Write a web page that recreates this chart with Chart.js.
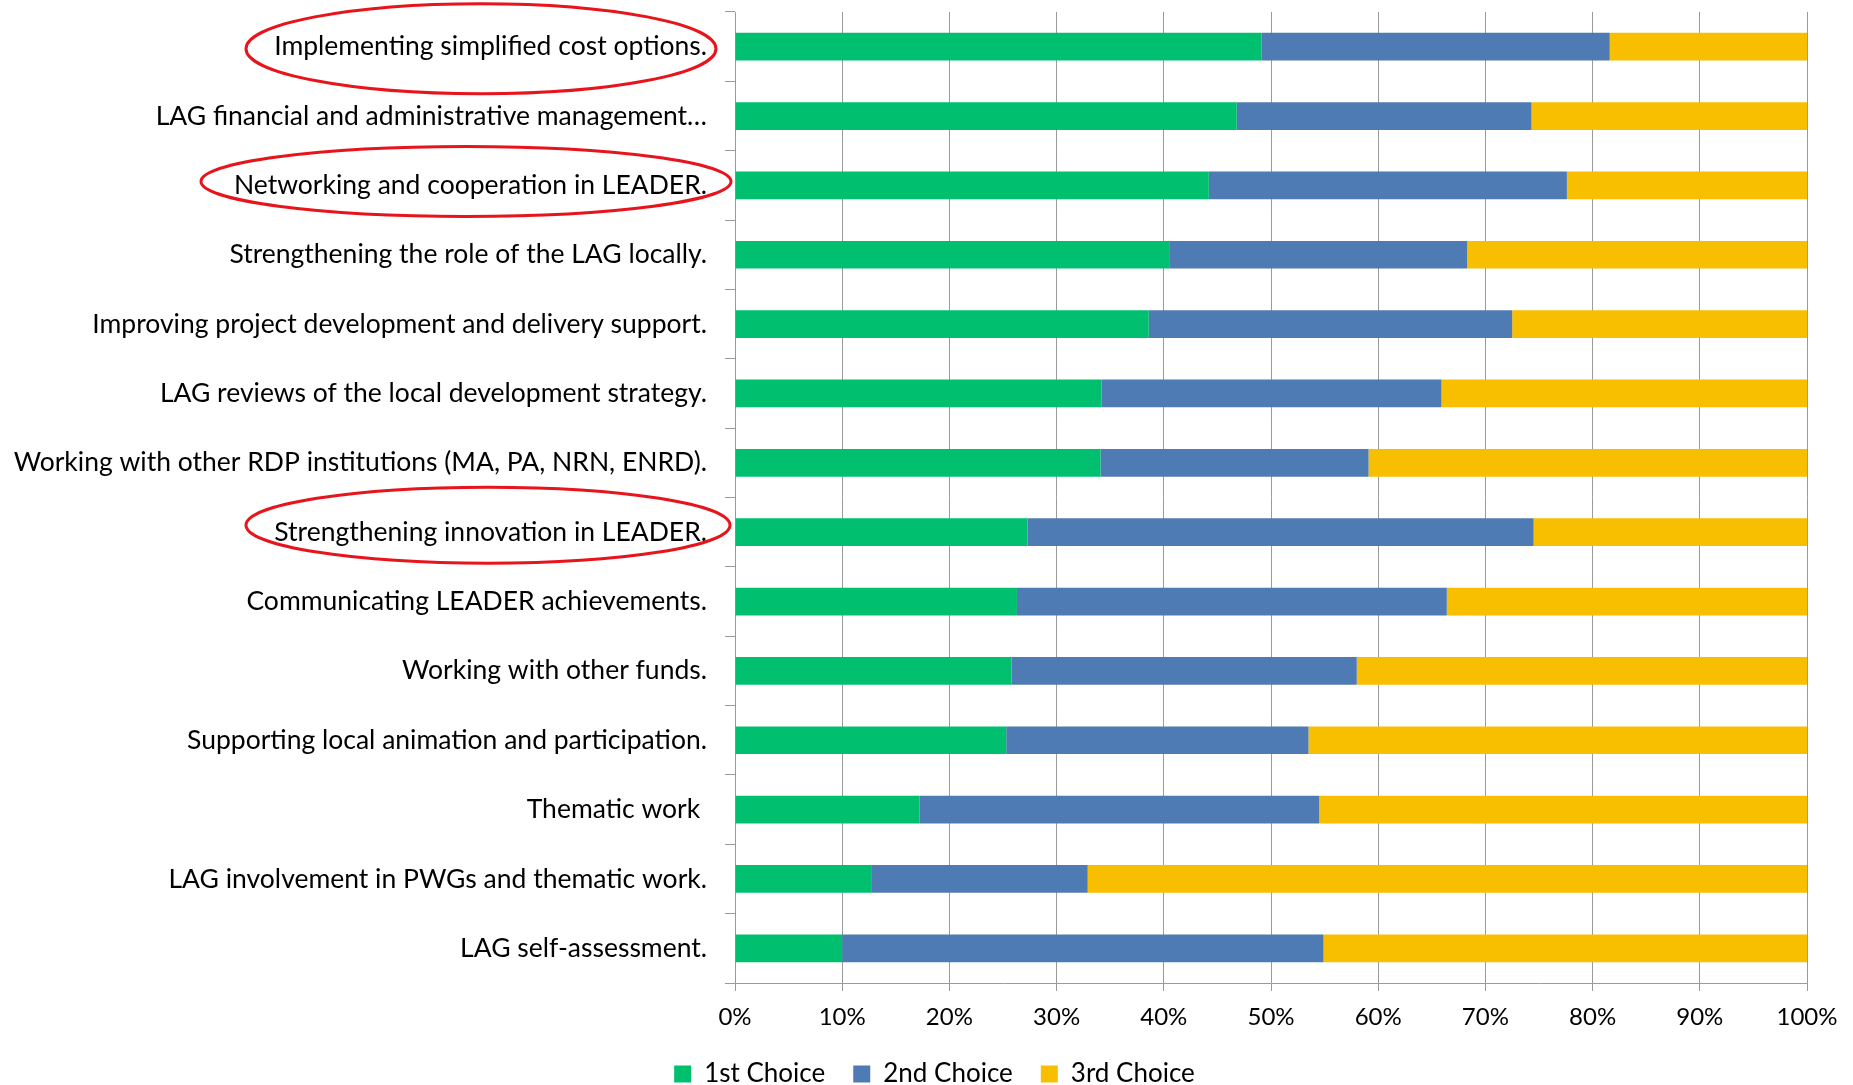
<!DOCTYPE html>
<html>
<head>
<meta charset="utf-8">
<script src="https://cdn.jsdelivr.net/npm/chart.js@4.4.1/dist/chart.umd.min.js"></script>
<style>
  html, body { margin: 0; padding: 0; background: #ffffff; overflow: hidden; }
  #wrap { width: 1853px; height: 1085px; position: relative; }
</style>
</head>
<body>
<div id="wrap"><canvas id="c"></canvas></div>
<script>
const categories = [
  "Implementing simplified cost options.",
  "LAG financial and administrative management\u2026",
  "Networking and cooperation in LEADER.",
  "Strengthening the role of the LAG locally.",
  "Improving project development and delivery support.",
  "LAG reviews of the local development strategy.",
  "Working with other RDP institutions (MA, PA, NRN, ENRD).",
  "Strengthening innovation in LEADER.",
  "Communicating LEADER achievements.",
  "Working with other funds.",
  "Supporting local animation and participation.",
  "Thematic work ",
  "LAG involvement in PWGs and thematic work.",
  "LAG self-assessment."
];
const firstChoice  = [49.1, 46.8, 44.2, 40.5, 38.6, 34.2, 34.1, 27.3, 26.3, 25.8, 25.3, 17.2, 12.7, 10.0];
const secondChoice = [32.5, 27.5, 33.4, 27.8, 33.9, 31.7, 25.0, 47.2, 40.1, 32.2, 28.2, 37.3, 20.2, 44.9];
const thirdChoice  = [18.4, 25.7, 22.4, 31.7, 27.5, 34.1, 40.9, 25.5, 33.6, 42.0, 46.5, 45.5, 67.1, 45.1];
const seriesNames  = ["1st Choice", "2nd Choice", "3rd Choice"];
const xTicks = [0, 10, 20, 30, 40, 50, 60, 70, 80, 90, 100];
const highlighted = [0, 2, 7];

const FONT = "Lato";
const colors = ["#00BF6F", "#4F7BB4", "#F8BE00"];

// red ellipses around highlighted category labels (annotation)
const ellipseStyle = [
  { cx: 481, rx: 235, ry: 45, dy: 2 },
  { cx: 466, rx: 265, ry: 35, dy: -4 },
  { cx: 488, rx: 242, ry: 38, dy: -7 }
];
const ellipsePlugin = {
  id: 'ellipses',
  afterDraw(chart) {
    const ctx = chart.ctx;
    const y = chart.scales.y;
    ctx.save();
    ctx.strokeStyle = "#E8141C";
    ctx.lineWidth = 3;
    highlighted.forEach((idx, i) => {
      const e = ellipseStyle[i];
      const cy = y.getPixelForValue(idx) + e.dy;
      ctx.beginPath();
      ctx.ellipse(e.cx, cy, e.rx, e.ry, 0, 0, Math.PI * 2);
      ctx.stroke();
    });
    ctx.restore();
  }
};
// nudge the legend block to the right, as in the original
const legendShift = {
  id: 'legendShift',
  afterLayout(chart) {
    const lg = chart.legend;
    if (lg) { lg.left += 26; lg.right += 26; }
  }
};

new Chart(document.getElementById('c'), {
  type: 'bar',
  data: {
    labels: categories,
    datasets: [firstChoice, secondChoice, thirdChoice].map((d, i) => ({
      label: seriesNames[i],
      data: d,
      backgroundColor: colors[i],
      borderWidth: 0,
      categoryPercentage: 0.4,
      barPercentage: 1.0
    }))
  },
  options: {
    indexAxis: 'y',
    responsive: true,
    maintainAspectRatio: false,
    animation: false,
    layout: { padding: { left: 10, right: 46, top: 12, bottom: -12 } },
    plugins: {
      tooltip: { enabled: false },
      legend: {
        position: 'bottom',
        labels: {
          font: { family: FONT, size: 26 },
          color: '#000',
          boxWidth: 17,
          boxHeight: 17,
          padding: 28
        }
      }
    },
    scales: {
      x: {
        stacked: true,
        min: 0,
        max: 100,
        afterBuildTicks: (s) => { s.ticks = xTicks.map(v => ({ value: v })); },
        ticks: {
          callback: (v) => v + '%',
          font: { family: FONT, size: 24 },
          color: '#000',
          padding: 12,
          maxRotation: 0
        },
        grid: { color: '#9a9a9a', lineWidth: 1, tickLength: 8, drawTicks: true },
        border: { color: '#9a9a9a', width: 1 },
        afterFit: (s) => { s.height = 50; }
      },
      y: {
        stacked: true,
        ticks: {
          font: { family: FONT, size: 26.5 },
          color: '#000',
          padding: 18,
          autoSkip: false
        },
        grid: { drawOnChartArea: false, drawTicks: true, tickLength: 10, offset: true, color: '#9a9a9a' },
        border: { color: '#9a9a9a', width: 1 },
        afterFit: (s) => { s.width = 725; s.paddingTop = 0; s.paddingBottom = 0; }
      }
    }
  },
  plugins: [ellipsePlugin, legendShift]
});
</script>
</body>
</html>
